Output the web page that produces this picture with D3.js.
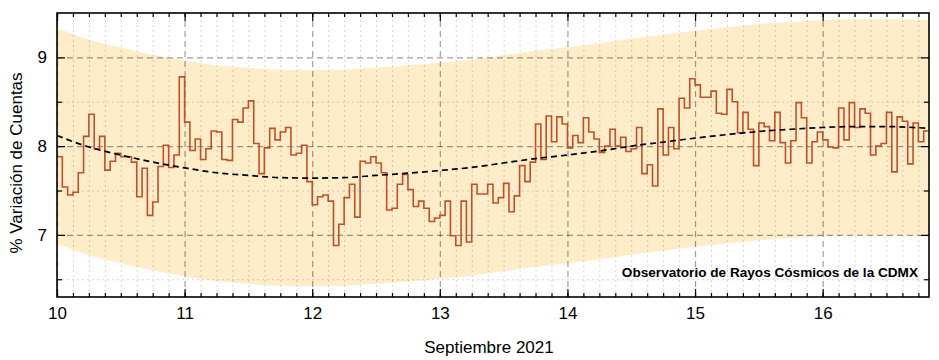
<!DOCTYPE html>
<html><head><meta charset="utf-8">
<script src="https://cdn.jsdelivr.net/npm/d3@7"></script>
<style>
body{margin:0;background:#fff}
svg{display:block}
text{font-family:"Liberation Sans",Arial,Helvetica,sans-serif}
</style>
</head><body>
<svg id="chart" width="939" height="360"></svg>
<script>
// ---- data ----
const startDay = 10;
const hoursPerStep = 1;
const hourlyValues = [
 7.88,7.54,7.45,7.48,7.70,8.11,8.36,7.97,8.11,7.73,7.83,7.92,7.88,7.88,7.82,7.43,7.75,7.22,7.37,7.77,8.01,7.76,7.90,8.78,
 8.27,7.95,8.08,7.85,7.97,8.17,8.16,7.85,7.84,8.30,8.27,8.43,8.51,8.03,7.69,7.98,8.20,8.07,8.16,8.21,7.90,7.92,8.01,7.60,
 7.34,7.43,7.45,7.38,6.88,7.12,7.42,7.57,7.20,7.83,7.81,7.88,7.81,7.70,7.28,7.30,7.57,7.68,7.51,7.32,7.38,7.30,7.15,7.19,
 7.22,7.38,6.99,6.88,7.38,6.92,7.57,7.46,7.46,7.57,7.36,7.42,7.58,7.26,7.44,7.78,7.60,7.82,8.25,7.85,8.34,8.05,8.33,8.25,
 7.98,8.12,8.04,8.32,8.16,8.08,7.93,8.00,8.19,8.00,8.10,7.94,7.97,8.21,7.69,7.79,7.55,8.42,7.90,8.21,7.97,8.54,8.43,8.76,
 8.69,8.55,8.55,8.62,8.37,8.36,8.64,8.50,8.15,8.38,8.19,7.78,8.26,8.22,8.06,8.38,8.04,7.81,8.06,8.49,8.32,7.81,8.05,8.16,
 8.07,7.99,7.98,8.43,8.07,8.49,8.21,8.42,8.37,7.90,8.00,8.03,8.38,7.71,8.33,8.28,7.80,8.26,8.05,8.17
];
const trendDays   = [10,10.25,10.5,10.75,11,11.25,11.5,11.75,12,12.25,12.5,12.75,13,13.25,13.5,13.75,14,14.25,14.5,14.75,15,15.25,15.5,15.75,16,16.25,16.5,16.8333];
const trendValues = [8.12,7.99,7.90,7.82,7.755,7.70,7.67,7.645,7.64,7.645,7.67,7.695,7.725,7.76,7.81,7.86,7.90,7.945,8.00,8.045,8.09,8.13,8.165,8.19,8.21,8.22,8.22,8.20];
const bandUpper   = [9.33,9.20,9.11,9.03,8.965,8.91,8.88,8.86,8.855,8.86,8.885,8.91,8.94,8.975,9.025,9.075,9.115,9.16,9.21,9.255,9.30,9.34,9.375,9.40,9.42,9.43,9.43,9.42];
const bandLower   = [6.90,6.77,6.68,6.60,6.535,6.48,6.45,6.425,6.42,6.425,6.45,6.475,6.505,6.54,6.59,6.64,6.68,6.725,6.775,6.82,6.865,6.905,6.94,6.965,6.985,6.995,6.995,6.98];
const xTickValues = [10,11,12,13,14,15,16];
const xTickLabels = ["10","11","12","13","14","15","16"];
const yTickValues = [7,8,9];
const yTickLabels = ["7","8","9"];
const xLabel = "Septiembre 2021";
const yLabel = "% Variación de Cuentas";
const note = "Observatorio de Rayos Cósmicos de la CDMX";

// ---- layout ----
const W = 939, H = 360;
const m = {left:57, top:13, right:10, bottom:63};
const pw = W - m.left - m.right, ph = H - m.top - m.bottom;
const endDay = startDay + hourlyValues.length * hoursPerStep / 24;

const x = d3.scaleLinear().domain([startDay, endDay]).range([0, pw]);
const y = d3.scaleLinear().domain([6.3, 9.5]).range([ph, 0]);

const svg = d3.select("#chart");
svg.append("defs").append("clipPath").attr("id","clip")
  .append("rect").attr("width", pw).attr("height", ph);
const g = svg.append("g").attr("transform", `translate(${m.left},${m.top})`);
const plot = g.append("g").attr("clip-path","url(#clip)");

// band
const bandData = trendDays.map((d,i)=>({t:d, hi:bandUpper[i], lo:bandLower[i]}));
plot.append("path").datum(bandData)
  .attr("fill","#fdedc8")
  .attr("d", d3.area().curve(d3.curveMonotoneX).x(d=>x(d.t)).y0(d=>y(d.lo)).y1(d=>y(d.hi)));

// minor grid
const minorX = d3.range(0, hourlyValues.length + 1, 3).map(h => startDay + h/24).filter(v => !xTickValues.includes(+v.toFixed(6)));
const minorY = [6.5,7.5,8.5];
const gridMinorX = plot.append("g").attr("transform",`translate(0,${ph})`)
  .call(d3.axisBottom(x).tickValues(minorX).tickSize(-ph).tickFormat(""));
const gridMinorY = plot.append("g")
  .call(d3.axisLeft(y).tickValues(minorY).tickSize(-pw).tickFormat(""));
[gridMinorX, gridMinorY].forEach(s=>{
  s.select(".domain").remove();
  s.selectAll("line").attr("stroke","rgba(0,0,0,0.16)").attr("stroke-width",1).attr("stroke-dasharray","2,3");
});
// major grid
const gridX = plot.append("g").attr("transform",`translate(0,${ph})`)
  .call(d3.axisBottom(x).tickValues(xTickValues).tickSize(-ph).tickFormat(""));
const gridY = plot.append("g")
  .call(d3.axisLeft(y).tickValues(yTickValues).tickSize(-pw).tickFormat(""));
[gridX, gridY].forEach(s=>{
  s.select(".domain").remove();
  s.selectAll("line").attr("stroke","rgba(0,0,0,0.38)").attr("stroke-width",1.2).attr("stroke-dasharray","6,4");
});

// step series
const steps = hourlyValues.map((v,i)=>({t:startDay + i*hoursPerStep/24, v}));
steps.push({t:endDay, v:hourlyValues[hourlyValues.length-1]});
plot.append("path").datum(steps)
  .attr("fill","none").attr("stroke","#c24f2a").attr("stroke-width",1.6)
  .attr("d", d3.line().curve(d3.curveStepAfter).x(d=>x(d.t)).y(d=>y(d.v)));

// trend
const trendData = trendDays.map((d,i)=>({t:d, v:trendValues[i]}));
plot.append("path").datum(trendData)
  .attr("fill","none").attr("stroke","#000").attr("stroke-width",1.7).attr("stroke-dasharray","6,4")
  .attr("d", d3.line().curve(d3.curveMonotoneX).x(d=>x(d.t)).y(d=>y(d.v)));

// axes with inward ticks
function styleAxis(s){ s.select(".domain").remove(); s.selectAll("line").attr("stroke","#000").attr("stroke-width",1.2); }
const minorXAll = d3.range(0, hourlyValues.length + 1, 3).map(h => startDay + h/24);
// bottom
g.append("g").attr("transform",`translate(0,${ph})`).call(d3.axisBottom(x).tickValues(minorXAll).tickSize(-4).tickFormat("")).call(styleAxis);
const xAxis = g.append("g").attr("transform",`translate(0,${ph})`)
  .call(d3.axisBottom(x).tickValues(xTickValues).tickSize(-8).tickPadding(10).tickFormat((d,i)=>xTickLabels[i]))
  .call(styleAxis);
xAxis.selectAll("text").attr("font-size",17).attr("fill","#000").attr("font-family",'"Liberation Sans",Arial,sans-serif');
// top
g.append("g").call(d3.axisTop(x).tickValues(minorXAll).tickSize(-4).tickFormat("")).call(styleAxis);
g.append("g").call(d3.axisTop(x).tickValues(xTickValues).tickSize(-8).tickFormat("")).call(styleAxis);
// left
g.append("g").call(d3.axisLeft(y).tickValues(minorY).tickSize(-5).tickFormat("")).call(styleAxis);
const yAxis = g.append("g")
  .call(d3.axisLeft(y).tickValues(yTickValues).tickSize(-8).tickPadding(10).tickFormat((d,i)=>yTickLabels[i]))
  .call(styleAxis);
yAxis.selectAll("text").attr("font-size",17).attr("fill","#000").attr("font-family",'"Liberation Sans",Arial,sans-serif');
// right
g.append("g").attr("transform",`translate(${pw},0)`).call(d3.axisRight(y).tickValues(minorY).tickSize(-5).tickFormat("")).call(styleAxis);
g.append("g").attr("transform",`translate(${pw},0)`).call(d3.axisRight(y).tickValues(yTickValues).tickSize(-8).tickFormat("")).call(styleAxis);

// frame
g.append("rect").attr("width",pw).attr("height",ph).attr("fill","none").attr("stroke","#000").attr("stroke-width",1.6);

// annotation
g.append("text").attr("x", pw - 11).attr("y", 264).attr("text-anchor","end")
  .attr("font-size",13.6).attr("font-weight","bold").attr("fill","#000").text(note);

// axis titles
svg.append("text").attr("x", m.left + pw/2 - 4).attr("y", 353).attr("text-anchor","middle")
  .attr("font-size",17).attr("fill","#000").text(xLabel);
svg.append("text").attr("transform","translate(22,163) rotate(-90)").attr("text-anchor","middle")
  .attr("font-size",17).attr("fill","#000").text(yLabel);
</script>
</body></html>
